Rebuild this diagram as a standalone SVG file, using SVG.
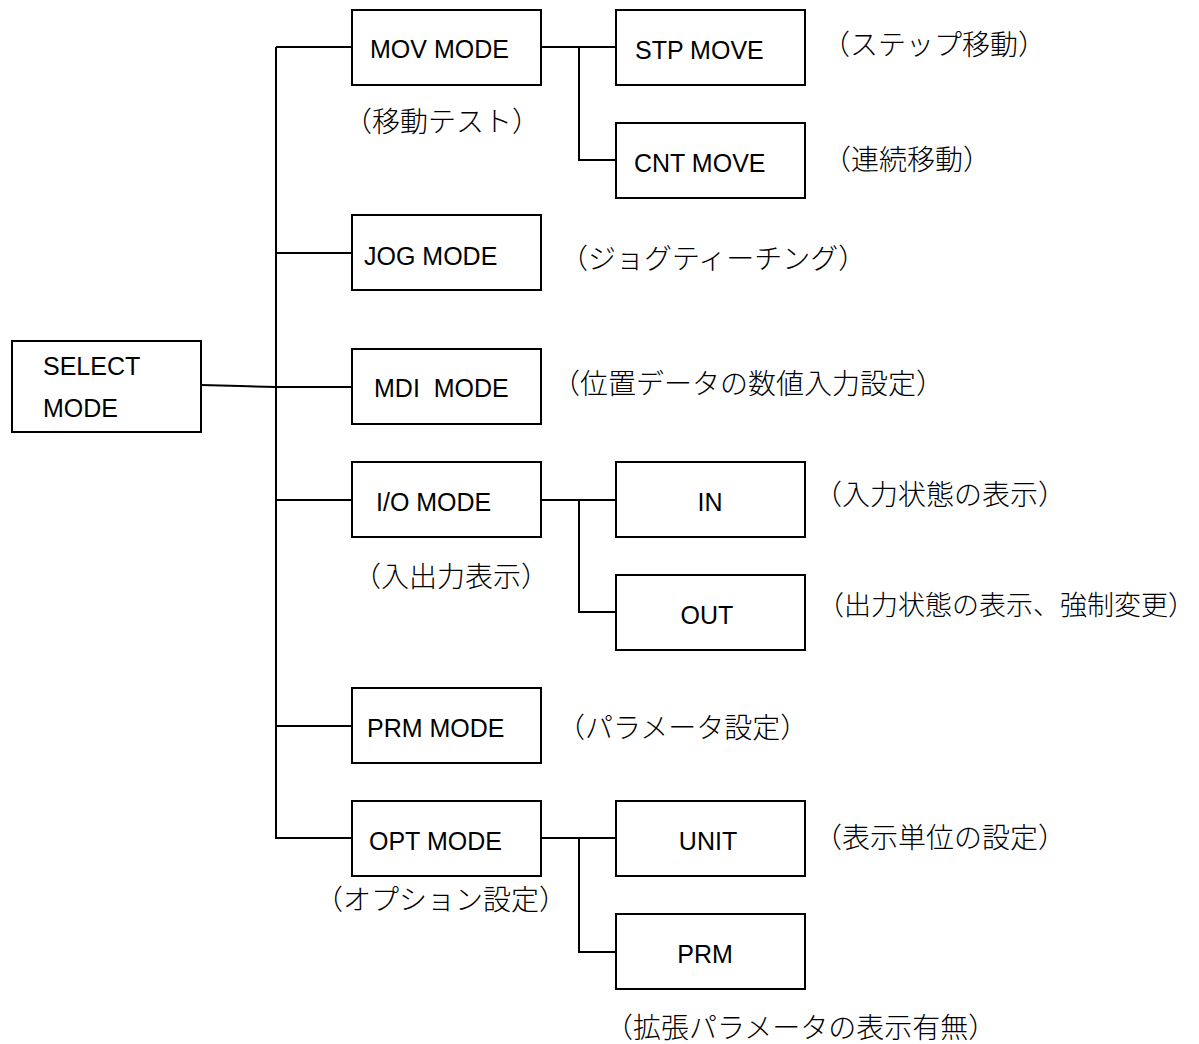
<svg xmlns="http://www.w3.org/2000/svg" width="1199" height="1044" viewBox="0 0 1199 1044">
  <style>
    .box { fill: #ffffff; stroke: #000000; stroke-width: 2; }
    .wire { fill: none; stroke: #000000; stroke-width: 2; }
    .lbl { font-family: "Liberation Sans", Arial, sans-serif; font-size: 25px; fill: #000000; }
    .note { font-family: "Noto Sans CJK JP", sans-serif; font-size: 28px; font-weight: 300; fill: #000000; }
  </style>
  <rect width="1199" height="1044" fill="#ffffff"/>

  <!-- connectors -->
  <g id="connectors">
    <polyline class="wire" points="201,385 240,386 276,387"/>
    <line class="wire" x1="276" y1="47" x2="276" y2="839"/>
    <line class="wire" x1="276" y1="47" x2="352" y2="47"/>
    <line class="wire" x1="276" y1="253" x2="352" y2="253"/>
    <line class="wire" x1="276" y1="387" x2="352" y2="387"/>
    <line class="wire" x1="276" y1="500" x2="352" y2="500"/>
    <line class="wire" x1="276" y1="726" x2="352" y2="726"/>
    <line class="wire" x1="276" y1="838" x2="352" y2="838"/>
    <!-- MOV MODE children -->
    <line class="wire" x1="541" y1="47" x2="616" y2="47"/>
    <polyline class="wire" points="579,47 579,160 616,160"/>
    <!-- I/O MODE children -->
    <line class="wire" x1="541" y1="500" x2="616" y2="500"/>
    <polyline class="wire" points="579,500 579,612 616,612"/>
    <!-- OPT MODE children -->
    <line class="wire" x1="541" y1="838" x2="616" y2="838"/>
    <polyline class="wire" points="579,838 579,952 616,952"/>
  </g>

  <g id="select-mode">
    <rect class="box" x="12" y="341" width="189" height="91"/>
    <text class="lbl" x="43" y="375">SELECT</text>
    <text class="lbl" x="43" y="417">MODE</text>
  </g>

  <g id="mov-mode">
    <rect class="box" x="352" y="10" width="189" height="75"/>
    <text class="lbl" x="370" y="58">MOV MODE</text>
    <text class="note" x="344" y="132">（移動テスト）</text>
  </g>
  <g id="stp-move">
    <rect class="box" x="616" y="10" width="189" height="75"/>
    <text class="lbl" x="635" y="59">STP MOVE</text>
    <text class="note" x="822" y="55">（ステップ移動）</text>
  </g>
  <g id="cnt-move">
    <rect class="box" x="616" y="123" width="189" height="75"/>
    <text class="lbl" x="634" y="172">CNT MOVE</text>
    <text class="note" x="823" y="170">（連続移動）</text>
  </g>

  <g id="jog-mode">
    <rect class="box" x="352" y="215" width="189" height="75"/>
    <text class="lbl" x="364" y="265">JOG MODE</text>
    <text class="note" x="560" y="269">（ジョグティーチング）</text>
  </g>

  <g id="mdi-mode">
    <rect class="box" x="352" y="349" width="189" height="75"/>
    <text class="lbl" x="374" y="397" xml:space="preserve">MDI  MODE</text>
    <text class="note" x="552" y="394">（位置データの数値入力設定）</text>
  </g>

  <g id="io-mode">
    <rect class="box" x="352" y="462" width="189" height="75"/>
    <text class="lbl" x="376" y="511">I/O MODE</text>
    <text class="note" x="353" y="587">（入出力表示）</text>
  </g>
  <g id="in">
    <rect class="box" x="616" y="462" width="189" height="75"/>
    <text class="lbl" x="710" y="511" text-anchor="middle">IN</text>
    <text class="note" x="814" y="505">（入力状態の表示）</text>
  </g>
  <g id="out">
    <rect class="box" x="616" y="575" width="189" height="75"/>
    <text class="lbl" x="707" y="624" text-anchor="middle">OUT</text>
    <text class="note" x="817" y="615" style="font-size:27px">（出力状態の表示、強制変更）</text>
  </g>

  <g id="prm-mode">
    <rect class="box" x="352" y="688" width="189" height="75"/>
    <text class="lbl" x="367" y="737">PRM MODE</text>
    <text class="note" x="557" y="738">（パラメータ設定）</text>
  </g>

  <g id="opt-mode">
    <rect class="box" x="352" y="801" width="189" height="75"/>
    <text class="lbl" x="369" y="850">OPT MODE</text>
    <text class="note" x="315" y="910">（オプション設定）</text>
  </g>
  <g id="unit">
    <rect class="box" x="616" y="801" width="189" height="75"/>
    <text class="lbl" x="708" y="850" text-anchor="middle">UNIT</text>
    <text class="note" x="814" y="848">（表示単位の設定）</text>
  </g>
  <g id="prm">
    <rect class="box" x="616" y="914" width="189" height="75"/>
    <text class="lbl" x="705" y="963" text-anchor="middle">PRM</text>
    <text class="note" x="605" y="1038">（拡張パラメータの表示有無）</text>
  </g>
</svg>
